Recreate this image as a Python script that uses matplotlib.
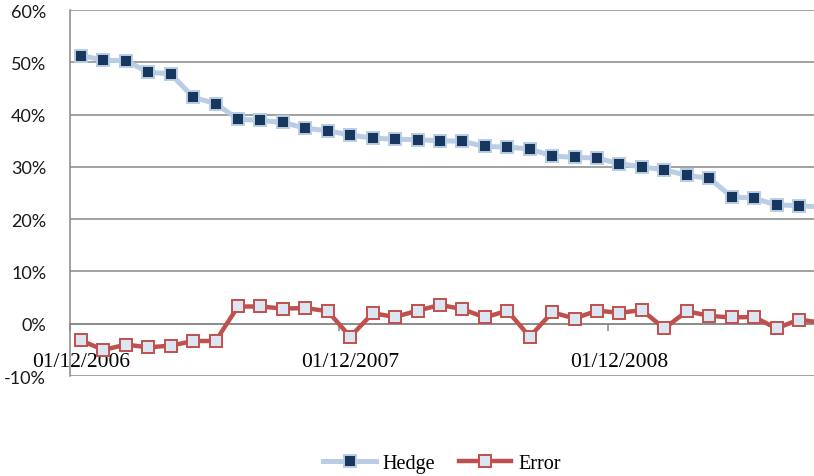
import matplotlib
matplotlib.use("Agg")
import matplotlib.pyplot as plt
from matplotlib.ticker import FixedLocator

# ---- data (percent) ----
hedge = [51.3, 50.4, 50.3, 48.1, 47.8, 43.3, 42.1, 39.1, 38.9, 38.5, 37.4, 36.9,
         36.1, 35.5, 35.3, 35.2, 35.0, 34.9, 33.9, 33.8, 33.4, 32.1, 31.8, 31.7,
         30.6, 30.0, 29.4, 28.4, 27.8, 24.3, 24.0, 22.7, 22.6, 22.3]
error = [-3.2, -5.0, -4.0, -4.5, -4.2, -3.3, -3.3, 3.3, 3.3, 2.9, 3.0, 2.4,
         -2.5, 2.0, 1.3, 2.5, 3.6, 2.8, 1.2, 2.5, -2.5, 2.2, 1.0, 2.5,
         2.1, 2.6, -0.9, 2.4, 1.5, 1.2, 1.3, -0.9, 0.8, 0.2]
date_labels = ["01/12/2006", "01/12/2007", "01/12/2008"]
label_every = 12
y_ticks = [-10, 0, 10, 20, 30, 40, 50, 60]
y_labels = ["-10%", "0%", "10%", "20%", "30%", "40%", "50%", "60%"]

n = len(hedge)
x = list(range(n))

fig = plt.figure(figsize=(8.14, 4.77), dpi=100)
ax = fig.add_axes([0.0857, 0.2096, 0.9372, 0.7673])

grid_c = "#878787"
for yv in y_ticks:
    ax.axhline(yv, color=grid_c, lw=1.1, zorder=1)

ax.plot(x, hedge, color="#B9CDE5", lw=3.6, marker="s", ms=8,
        mfc="#17375E", mec="#B9CDE5", mew=1.4, label="Hedge", zorder=3,
        solid_joinstyle="round")
ax.plot(x, error, color="#C0504D", lw=3.2, marker="s", ms=8.5,
        mfc="#DCE6F2", mec="#C0504D", mew=1.4, label="Error", zorder=3,
        solid_joinstyle="round")

ax.set_xlim(-0.5, n - 0.5)
ax.set_ylim(-10, 60)

for s in ["top", "right"]:
    ax.spines[s].set_visible(False)
ax.spines["left"].set_color(grid_c)
ax.spines["left"].set_linewidth(1.1)
ax.spines["bottom"].set_position(("data", 0))
ax.spines["bottom"].set_color(grid_c)
ax.spines["bottom"].set_linewidth(1.1)

ax.set_yticks(y_ticks)
ax.set_yticklabels(y_labels, family="Lato", fontsize=13)
ax.tick_params(axis="y", length=0, pad=17, labelcolor="#1a1a1a")

major_pos = [i * label_every for i in range(len(date_labels))]
ax.set_xticks(major_pos)
ax.set_xticklabels(date_labels, family="Liberation Serif", fontsize=15.5)
ax.tick_params(axis="x", which="major", length=0, pad=20.5)
ax.xaxis.set_minor_locator(FixedLocator([p - 0.5 for p in major_pos]))
ax.tick_params(axis="x", which="minor", length=5, width=1.1, color=grid_c,
               direction="out")

leg = fig.legend(loc="center", bbox_to_anchor=(0.543, 0.027), ncol=2,
                 frameon=False, prop={"family": "Liberation Serif", "size": 14.5},
                 handlelength=2.6, handletextpad=0.35, columnspacing=1.15)

fig.savefig("out.png", dpi=100)
